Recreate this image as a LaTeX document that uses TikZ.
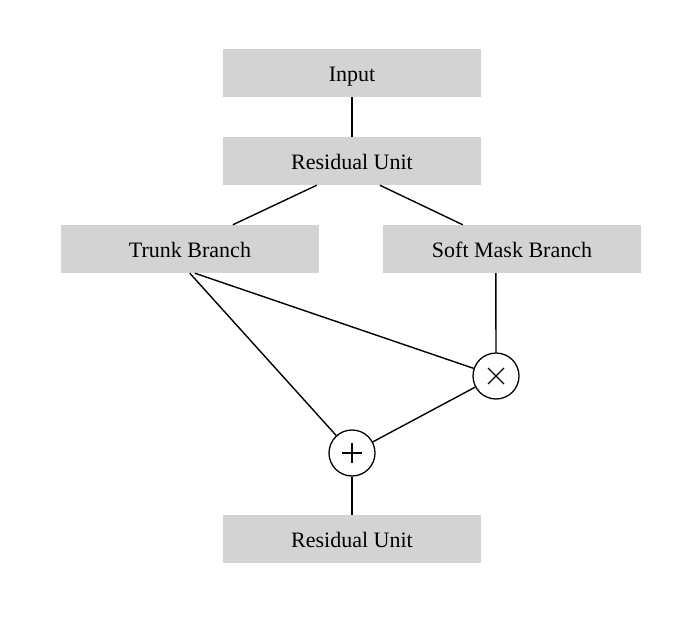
\documentclass[tikz,border=0pt]{standalone}
\usepackage{fontspec}
\setmainfont{Liberation Serif}
\usetikzlibrary{calc}
\begin{document}
\begin{tikzpicture}[x=1pt,y=-1pt,
  box/.style={fill={rgb,255:red,211;green,211;blue,211}, draw=none, minimum width=258pt, minimum height=48pt, inner sep=0pt, text height=20pt, text depth=3pt, font=\fontsize{22}{26}\selectfont},
  op/.style={circle, draw, line width=1.3pt, fill=white, minimum size=46pt, inner sep=0pt},
  sym/.style={line width=1.1pt},
  conn/.style={line width=1.4pt}]
\useasboundingbox (0,0) rectangle (698,620);
\node[box] (input) at (352,73) {Input};
\node[box] (ru1) at (352,161) {Residual Unit};
\node[box] (trunk) at (190,249) {Trunk Branch};
\node[box] (soft) at (512,249) {Soft Mask Branch};
\node[op] (times) at (496,376) {};
\node[op] (plus) at (352,453) {};
\node[box] (ru2) at (352,539) {Residual Unit};
% symbols
\draw[sym] ($(times.center)+(-8,-8)$) -- ($(times.center)+(8,8)$)
  ($(times.center)+(-8,8)$) -- ($(times.center)+(8,-8)$);
\draw[sym] ($(plus.center)+(-10,0)$) -- ($(plus.center)+(10,0)$)
  ($(plus.center)+(0,-10)$) -- ($(plus.center)+(0,10)$);
% connectors
\coordinate (ruL) at ($(ru1.south west)+(94,0)$);
\coordinate (ruR) at ($(ru1.south west)+(157,0)$);
\coordinate (trT) at ($(trunk.north west)+(172,0)$);
\coordinate (smT) at ($(soft.north west)+(80,0)$);
\coordinate (trB1) at ($(trunk.south west)+(129,0)$);
\coordinate (trB2) at ($(trunk.south west)+(134,0)$);
\coordinate (smB) at ($(soft.south west)+(113,0)$);
\draw[conn] (input.south) -- (ru1.north);
\draw[conn] (ruL) -- (trT);
\draw[conn] (ruR) -- (smT);
\draw[conn] (trB1) -- (plus);
\draw[conn] (trB2) -- (times);
\draw[conn] (smB) -- (times.north);
\draw[conn] (times) -- (plus);
\draw[conn] (plus.south) -- (ru2.north);
\end{tikzpicture}
\end{document}
